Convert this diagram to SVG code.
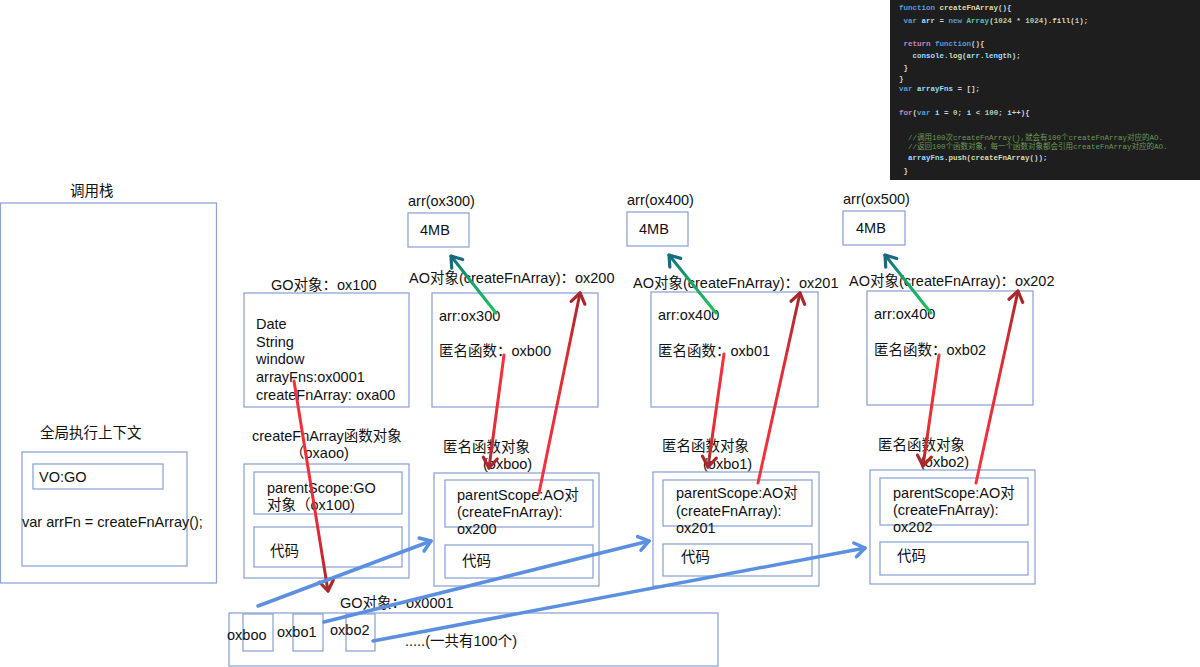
<svg xmlns="http://www.w3.org/2000/svg" width="1200" height="667" viewBox="0 0 1200 667">
<defs>
<style>
.t{font-family:"Liberation Sans","Noto Sans CJK SC",sans-serif;font-size:14.5px;fill:#111}
.box{fill:#fff;stroke:#8ea6d4;stroke-width:1.3}
.code{font-family:"Liberation Mono","DejaVu Sans Mono","Noto Sans CJK SC",monospace;font-size:7.5px;fill:#d4d4d4;white-space:pre;font-weight:bold}
.kw{fill:#569cd6}.fn{fill:#dcdcaa}.vr{fill:#9cdcfe}.ty{fill:#4ec9b0}.nm{fill:#b5cea8}.rt{fill:#c586c0}.cm{fill:#6a9955;font-weight:normal}
.blue{stroke:#5b90e0;stroke-width:3.5;fill:none;stroke-linecap:round}
.red{stroke-width:3;fill:none;stroke-linecap:round}
</style>
<linearGradient id="gDown" x1="0" y1="0" x2="0" y2="1"><stop offset="0" stop-color="#f6323e"/><stop offset="0.65" stop-color="#e62d36"/><stop offset="1" stop-color="#a8282c"/></linearGradient>
<linearGradient id="gUp" x1="0" y1="1" x2="0" y2="0"><stop offset="0" stop-color="#f6323e"/><stop offset="0.65" stop-color="#dc2e36"/><stop offset="1" stop-color="#a8282c"/></linearGradient>
<linearGradient id="gGreen" x1="1" y1="1" x2="0" y2="0"><stop offset="0" stop-color="#1fc15a"/><stop offset="0.6" stop-color="#16a06a"/><stop offset="1" stop-color="#176a80"/></linearGradient>
<marker id="mRed" viewBox="-12 -12 24 24" markerWidth="24" markerHeight="24" refX="0" refY="0" orient="auto" markerUnits="userSpaceOnUse"><path d="M-10,-7 L0,0 L-10,7" fill="none" stroke="#a8282c" stroke-width="3.2" stroke-linecap="round" stroke-linejoin="round"/></marker>
<marker id="mBlue" viewBox="-12 -12 24 24" markerWidth="24" markerHeight="24" refX="0" refY="0" orient="auto" markerUnits="userSpaceOnUse"><path d="M-10,-7 L0,0 L-10,7" fill="none" stroke="#5b90e0" stroke-width="3.5" stroke-linecap="round" stroke-linejoin="round"/></marker>
<marker id="mGreen" viewBox="-12 -12 24 24" markerWidth="24" markerHeight="24" refX="0" refY="0" orient="auto" markerUnits="userSpaceOnUse"><path d="M-10,-7 L0,0 L-10,7" fill="none" stroke="#176a80" stroke-width="3.2" stroke-linecap="round" stroke-linejoin="round"/></marker>
</defs>
<rect width="1200" height="667" fill="#fff"/>

<g id="code">
<rect x="890" y="0" width="310" height="180" fill="#1e1e1e"/>
<text class="code" x="899" y="10" xml:space="preserve"><tspan class="kw">function</tspan> <tspan class="fn">createFnArray</tspan>(){</text>
<text class="code" x="899" y="23" xml:space="preserve"> <tspan class="kw">var</tspan> <tspan class="vr">arr</tspan> = <tspan class="kw">new</tspan> <tspan class="ty">Array</tspan>(<tspan class="nm">1024</tspan> * <tspan class="nm">1024</tspan>).<tspan class="fn">fill</tspan>(<tspan class="nm">1</tspan>);</text>
<text class="code" x="899" y="46" xml:space="preserve"> <tspan class="rt">return</tspan> <tspan class="kw">function</tspan>(){</text>
<text class="code" x="899" y="58" xml:space="preserve">   <tspan class="vr">console</tspan>.<tspan class="fn">log</tspan>(<tspan class="vr">arr</tspan>.<tspan class="vr">length</tspan>);</text>
<text class="code" x="899" y="70" xml:space="preserve"> }</text>
<text class="code" x="899" y="81">}</text>
<text class="code" x="899" y="91" xml:space="preserve"><tspan class="kw">var</tspan> <tspan class="vr">arrayFns</tspan> = [];</text>
<text class="code" x="899" y="115" xml:space="preserve"><tspan class="rt">for</tspan>(<tspan class="kw">var</tspan> <tspan class="vr">i</tspan> = <tspan class="nm">0</tspan>; <tspan class="vr">i</tspan> &lt; <tspan class="nm">100</tspan>; <tspan class="vr">i</tspan>++){</text>
<text class="code cm" x="899" y="140" xml:space="preserve">  //调用100次createFnArray(),就会有100个createFnArray对应的AO.</text>
<text class="code cm" x="899" y="149" xml:space="preserve">  //返回100个函数对象，每一个函数对象都会引用createFnArray对应的AO.</text>
<text class="code" x="899" y="160" xml:space="preserve">  <tspan class="vr">arrayFns</tspan>.<tspan class="fn">push</tspan>(<tspan class="fn">createFnArray</tspan>());</text>
<text class="code" x="899" y="173" xml:space="preserve"> }</text>
</g>

<g id="callstack">
<text class="t" x="70" y="196">调用栈</text>
<rect class="box" x="0.5" y="203" width="216" height="380"/>
<text class="t" x="40" y="438">全局执行上下文</text>
<rect class="box" x="22" y="452" width="165" height="114"/>
<rect class="box" x="33" y="464" width="130" height="25"/>
<text class="t" x="39" y="482">VO:GO</text>
<text class="t" x="22" y="527">var arrFn = createFnArray();</text>
</g>

<g id="go">
<text class="t" x="271" y="290">GO对象：ox100</text>
<rect class="box" x="244" y="293" width="165" height="114"/>
<text class="t" x="256" y="329">Date</text>
<text class="t" x="256" y="347">String</text>
<text class="t" x="256" y="364">window</text>
<text class="t" x="256" y="382">arrayFns:ox0001</text>
<text class="t" x="256" y="400">createFnArray: oxa00</text>
</g>

<g id="createFnArray">
<text class="t" x="252" y="441">createFnArray函数对象</text>
<text class="t" x="290" y="458">（oxaoo)</text>
<rect class="box" x="244" y="464" width="165" height="114"/>
<rect class="box" x="254" y="472" width="148" height="42"/>
<text class="t" x="267" y="493">parentScope:GO</text>
<text class="t" x="267" y="510">对象（ox100)</text>
<rect class="box" x="254" y="527" width="148" height="40"/>
<text class="t" x="270" y="556">代码</text>
</g>

<g id="arr300">
<text class="t" x="408" y="206">arr(ox300)</text>
<rect class="box" x="408" y="213" width="61" height="34"/>
<text class="t" x="420" y="235">4MB</text>
</g>
<g id="ao200">
<text class="t" x="409" y="283">AO对象(createFnArray)：ox200</text>
<rect class="box" x="432" y="293" width="166" height="114"/>
<text class="t" x="439" y="321">arr:ox300</text>
<text class="t" x="439" y="356">匿名函数：oxb00</text>
</g>
<g id="fn00">
<text class="t" x="443" y="452">匿名函数对象</text>
<text class="t" x="483" y="469">(oxboo)</text>
<rect class="box" x="434" y="473" width="165" height="113"/>
<rect class="box" x="445" y="480" width="148" height="47"/>
<text class="t" x="457" y="500">parentScope:AO对</text>
<text class="t" x="457" y="517">(createFnArray):</text>
<text class="t" x="457" y="534">ox200</text>
<rect class="box" x="445" y="545" width="148" height="33"/>
<text class="t" x="462" y="566">代码</text>
</g>

<g id="arr400">
<text class="t" x="627" y="205">arr(ox400)</text>
<rect class="box" x="627" y="212" width="61" height="34"/>
<text class="t" x="639" y="234">4MB</text>
</g>
<g id="ao201">
<text class="t" x="633" y="288">AO对象(createFnArray)：ox201</text>
<rect class="box" x="651" y="292" width="167" height="115"/>
<text class="t" x="658" y="320">arr:ox400</text>
<text class="t" x="658" y="356">匿名函数：oxb01</text>
</g>
<g id="fn01">
<text class="t" x="662" y="451">匿名函数对象</text>
<text class="t" x="703" y="469">(oxbo1)</text>
<rect class="box" x="653" y="472" width="166" height="114"/>
<rect class="box" x="663" y="480" width="149" height="46"/>
<text class="t" x="676" y="498">parentScope:AO对</text>
<text class="t" x="676" y="516">(createFnArray):</text>
<text class="t" x="676" y="533">ox201</text>
<rect class="box" x="663" y="544" width="149" height="32"/>
<text class="t" x="681" y="562">代码</text>
</g>

<g id="arr500">
<text class="t" x="843" y="204">arr(ox500)</text>
<rect class="box" x="843" y="211" width="62" height="34"/>
<text class="t" x="856" y="233">4MB</text>
</g>
<g id="ao202">
<text class="t" x="849" y="286">AO对象(createFnArray)：ox202</text>
<rect class="box" x="867" y="291" width="166" height="114"/>
<text class="t" x="874" y="319">arr:ox400</text>
<text class="t" x="874" y="355">匿名函数：oxb02</text>
</g>
<g id="fn02">
<text class="t" x="878" y="450">匿名函数对象</text>
<text class="t" x="920" y="467">(oxbo2)</text>
<rect class="box" x="870" y="470" width="165" height="114"/>
<rect class="box" x="880" y="478" width="148" height="47"/>
<text class="t" x="893" y="498">parentScope:AO对</text>
<text class="t" x="893" y="515">(createFnArray):</text>
<text class="t" x="893" y="532">ox202</text>
<rect class="box" x="880" y="542" width="148" height="33"/>
<text class="t" x="897" y="561">代码</text>
</g>

<g id="goArray">
<text class="t" x="340" y="608">GO对象：ox0001</text>
<rect class="box" x="229" y="613" width="489" height="53"/>
<rect class="box" x="243" y="614" width="30" height="37"/>
<rect class="box" x="293" y="614" width="30" height="37"/>
<rect class="box" x="346" y="614" width="29" height="37"/>
<text class="t" x="227" y="640">oxboo</text>
<text class="t" x="277" y="637">oxbo1</text>
<text class="t" x="330" y="635">oxbo2</text>
<text class="t" x="405" y="646">.....(一共有100个)</text>
</g>

<g id="connectors">
<line x1="294" y1="381" x2="328" y2="591" class="red" stroke="url(#gDown)" marker-end="url(#mRed)"/>
<line x1="258" y1="606" x2="431" y2="541" class="blue" marker-end="url(#mBlue)"/>
<line x1="324" y1="622" x2="649" y2="541" class="blue" marker-end="url(#mBlue)"/>
<line x1="373" y1="641" x2="865" y2="548" class="blue" marker-end="url(#mBlue)"/>

<line x1="496" y1="313" x2="451" y2="256" class="red" stroke="url(#gGreen)" marker-end="url(#mGreen)"/>
<line x1="716" y1="313" x2="669" y2="255" class="red" stroke="url(#gGreen)" marker-end="url(#mGreen)"/>
<line x1="931" y1="313" x2="885" y2="255" class="red" stroke="url(#gGreen)" marker-end="url(#mGreen)"/>

<line x1="504" y1="355" x2="489" y2="468" class="red" stroke="url(#gDown)" marker-end="url(#mRed)"/>
<line x1="724" y1="354" x2="708" y2="467" class="red" stroke="url(#gDown)" marker-end="url(#mRed)"/>
<line x1="939" y1="355" x2="923" y2="466" class="red" stroke="url(#gDown)" marker-end="url(#mRed)"/>

<line x1="539" y1="493" x2="580" y2="293" class="red" stroke="url(#gUp)" marker-end="url(#mRed)"/>
<line x1="758" y1="483" x2="800" y2="293" class="red" stroke="url(#gUp)" marker-end="url(#mRed)"/>
<line x1="976" y1="483" x2="1018" y2="291" class="red" stroke="url(#gUp)" marker-end="url(#mRed)"/>
</g>
</svg>
